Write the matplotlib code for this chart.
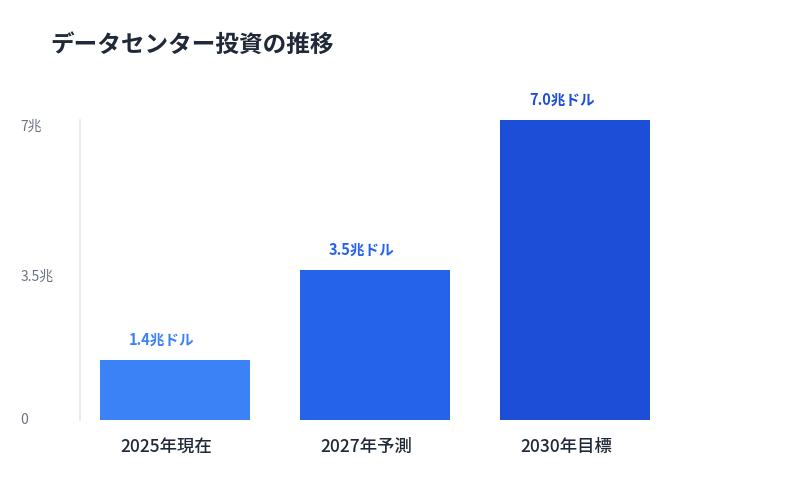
import matplotlib
matplotlib.use("Agg")
import matplotlib.pyplot as plt

plt.rcParams['font.family'] = ['Noto Sans CJK JP', 'DejaVu Sans']

# %% data
categories = ["2025年現在", "2027年予測", "2030年目標"]
values = [1.4, 3.5, 7.0]
value_labels = ["1.4兆ドル", "3.5兆ドル", "7.0兆ドル"]
ytick_values = [0, 3.5, 7]
ytick_labels = ["0", "3.5兆", "7兆"]
colors = ["#3b82f6", "#2563eb", "#1d4ed8"]

# %% figure
fig = plt.figure(figsize=(8, 5), dpi=100)
ax = fig.add_axes([0.1, 0.16, 0.7375, 0.6])

x = list(range(len(categories)))
ax.bar(x, values, width=0.75, color=colors, zorder=2)
ax.set_xlim(-0.475, 2.475)
ax.set_ylim(0, 7)

for xi, v, lab, c in zip(x, values, value_labels, colors):
    ax.annotate(lab, (xi - 0.065, v), xytext=(0, 9), textcoords="offset points",
                ha="center", va="bottom", fontsize=10.5, fontweight="bold", color=c)

for spine in ["top", "right", "bottom"]:
    ax.spines[spine].set_visible(False)
ax.spines["left"].set_color("#e5e7eb")
ax.spines["left"].set_linewidth(1.2)

ax.set_xticks([xi - 0.045 for xi in x])
ax.set_xticklabels(categories, fontsize=12.5, fontweight="medium", color="#1f2937")
ax.tick_params(axis="x", length=0, pad=13)

ax.set_yticks(ytick_values)
ax.set_yticklabels(ytick_labels, fontsize=10, color="#6b7280", ha="left", va="top")
ax.tick_params(axis="y", length=0, pad=43)
# the zero label sits on the baseline rather than below it
ax.get_yticklabels()[0].set_va("center")

fig.text(0.0625, 0.91, "データセンター投資の推移", fontsize=17, fontweight="bold",
         color="#1f2937", ha="left", va="center")

fig.savefig("out.png", dpi=100, facecolor="white")
